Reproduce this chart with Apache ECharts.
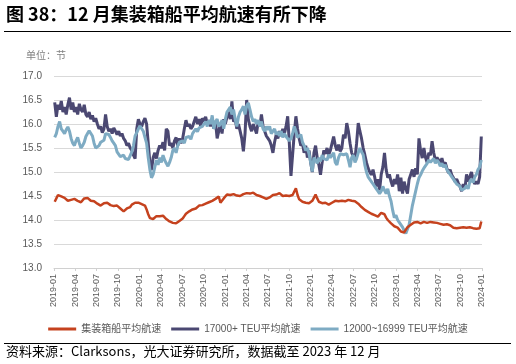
<!DOCTYPE html>
<html><head><meta charset="utf-8">
<script src="https://cdn.jsdelivr.net/npm/echarts@6/dist/echarts.min.js"></script>
<style>html,body{margin:0;padding:0;background:#fff}#c{width:516px;height:364px}</style>
</head><body><div id="c"></div>
<script>
const titleText = '图 38：12 月集装箱船平均航速有所下降';
const unitText = '单位：节';
const sourceText = '资料来源：Clarksons，光大证券研究所，数据截至 2023 年 12 月';
const seriesNames = ['集装箱船平均航速', '17000+ TEU平均航速', '12000~16999 TEU平均航速'];
const firstWeek = [2019, 1, 4];
const tickLabels = ['2019-01','2019-04','2019-07','2019-10','2020-01','2020-04','2020-07','2020-10',
  '2021-01','2021-04','2021-07','2021-10','2022-01','2022-04','2022-07','2022-10',
  '2023-01','2023-04','2023-07','2023-10','2024-01'];

// weekly values (knots), 2019-01 .. 2023-12
const avgSpeed = [
  14.38,14.45,14.52,14.50,14.49,14.48,14.46,14.42,14.40,14.38,14.42,14.45,14.44,
  14.42,14.40,14.38,14.37,14.40,14.45,14.47,14.46,14.43,14.40,14.38,14.39,14.36,
  14.34,14.31,14.30,14.32,14.35,14.37,14.36,14.33,14.31,14.30,14.29,14.28,14.30,
  14.27,14.24,14.20,14.18,14.22,14.24,14.25,14.27,14.32,14.35,14.36,14.34,14.36,
  14.35,14.33,14.34,14.30,14.22,14.12,14.04,14.00,14.02,14.05,14.08,14.10,14.08,
  14.07,14.09,14.05,14.02,14.00,13.97,13.95,13.94,13.96,13.93,13.95,13.98,14.00,
  14.03,14.08,14.13,14.16,14.18,14.20,14.22,14.25,14.24,14.27,14.30,14.29,14.31,
  14.33,14.34,14.36,14.37,14.38,14.40,14.42,14.44,14.47,14.49,14.36,14.34,14.45,
  14.49,14.53,14.55,14.52,14.50,14.54,14.53,14.51,14.49,14.50,14.52,14.54,14.55,
  14.56,14.54,14.55,14.53,14.57,14.55,14.52,14.53,14.50,14.48,14.47,14.46,14.44,
  14.45,14.47,14.49,14.52,14.55,14.53,14.54,14.56,14.52,14.50,14.53,14.51,14.49,
  14.50,14.48,14.52,14.55,14.66,14.52,14.43,14.40,14.38,14.37,14.36,14.38,14.35,
  14.38,14.40,14.44,14.53,14.45,14.38,14.36,14.35,14.34,14.36,14.33,14.32,14.34,
  14.36,14.38,14.40,14.41,14.39,14.42,14.40,14.41,14.39,14.40,14.42,14.41,14.40,
  14.38,14.39,14.37,14.34,14.30,14.27,14.24,14.21,14.18,14.17,14.15,14.13,14.12,
  14.10,14.08,14.07,14.10,14.15,14.16,14.12,14.05,14.00,13.96,13.93,13.90,13.87,
  13.86,13.84,13.80,13.76,13.72,13.74,13.80,13.85,13.88,13.90,13.93,13.95,13.94,
  13.96,13.95,13.93,13.94,13.96,13.95,13.94,13.92,13.96,13.93,13.95,13.97,13.94,
  13.96,13.92,13.95,13.90,13.87,13.91,13.93,13.89,13.86,13.84,13.85,13.83,13.86,
  13.84,13.82,13.85,13.83,13.84,13.82,13.85,13.84,13.83,13.86,13.82,13.84,13.83,13.97
];
const teu17000 = [
  16.45,16.15,16.40,16.30,16.48,16.25,16.35,16.20,16.40,16.55,16.30,16.45,16.25,
  16.35,16.20,16.42,16.30,16.25,16.40,16.20,16.15,16.25,16.10,16.18,16.05,16.12,
  16.00,15.90,15.95,15.82,15.90,16.20,15.95,15.85,15.90,15.80,15.92,15.85,15.78,
  15.85,15.75,15.80,15.70,15.65,15.55,15.60,15.50,15.45,15.35,15.28,15.90,16.10,
  16.00,15.95,16.05,16.12,16.00,15.60,15.20,15.04,15.30,15.40,15.28,15.45,15.55,
  15.50,15.62,15.45,15.90,15.85,15.55,15.60,15.50,15.65,15.72,15.55,15.70,15.60,
  15.70,15.90,16.08,15.95,16.00,15.90,15.95,16.05,16.15,16.00,16.10,15.95,16.12,
  16.05,16.15,16.00,16.08,15.95,16.10,15.90,16.05,15.70,15.85,16.00,15.80,16.10,
  16.00,16.15,16.25,16.10,16.47,16.05,16.10,15.90,16.00,15.85,15.70,15.43,15.80,
  16.50,16.10,15.95,15.85,16.00,15.90,15.80,16.05,15.95,16.20,15.95,15.85,15.75,
  15.70,15.65,15.55,15.40,15.62,15.78,15.70,15.85,15.75,15.90,15.80,15.95,16.16,
  15.60,14.92,15.36,15.80,16.16,15.90,15.70,15.55,15.60,15.40,15.55,15.30,15.45,
  15.20,15.00,15.40,15.55,15.30,15.15,14.94,15.20,15.45,15.38,15.50,15.36,15.45,
  15.45,15.74,15.55,15.45,15.57,15.43,15.50,15.78,15.70,16.02,15.85,15.60,15.40,
  15.36,15.26,15.60,16.02,15.85,15.70,15.50,15.36,15.20,15.08,15.00,14.94,15.05,
  14.90,14.70,14.85,14.62,14.95,15.10,15.40,15.05,14.88,14.95,14.80,14.70,14.85,
  14.75,14.95,14.60,14.88,14.55,14.80,14.65,14.55,14.85,14.95,15.05,14.90,15.08,
  14.95,15.70,15.45,15.29,15.50,15.30,15.20,15.40,15.35,15.64,15.40,15.25,15.30,
  15.25,15.18,15.29,15.15,15.20,15.08,14.98,15.05,14.94,14.88,14.80,14.85,14.77,
  14.70,14.60,14.75,14.65,14.95,14.80,14.90,15.00,14.85,14.75,14.80,14.75,14.90,15.74
];
const teu12000 = [
  15.72,15.80,15.95,16.05,15.90,15.85,15.80,15.88,15.94,15.85,15.70,15.60,15.55,
  15.65,15.72,15.60,15.50,15.55,15.62,15.74,15.80,15.86,15.84,15.75,15.60,15.50,
  15.46,15.55,15.62,15.58,15.66,15.80,15.84,15.78,15.72,15.65,15.60,15.55,15.42,
  15.38,15.32,15.30,15.35,15.28,15.30,15.26,15.34,15.42,15.55,15.75,15.82,15.90,
  15.96,16.00,15.85,15.72,15.60,15.30,15.05,14.88,14.95,15.10,15.25,15.15,15.30,
  15.20,15.35,15.25,15.18,15.12,15.20,15.30,15.45,15.50,15.40,15.55,15.62,15.58,
  15.65,15.60,15.72,15.70,15.74,15.68,15.80,15.85,15.90,15.84,15.92,15.88,15.95,
  16.00,16.05,15.95,16.08,16.00,16.18,15.90,16.05,16.10,15.95,16.00,16.08,15.90,
  16.10,16.25,16.30,16.35,16.20,16.30,16.10,15.95,16.15,16.25,16.30,16.37,16.20,
  16.38,16.44,16.30,16.15,16.05,16.10,16.00,16.08,15.95,16.05,15.90,15.85,15.95,
  15.88,15.95,15.80,15.85,15.90,15.78,15.84,15.75,15.85,15.72,15.80,15.74,15.70,
  15.65,15.70,15.80,15.95,15.85,15.72,15.68,15.78,15.62,15.55,15.45,15.50,15.38,
  15.20,15.01,15.30,15.25,15.18,15.30,15.22,15.35,15.28,15.32,15.25,15.36,15.30,
  15.28,15.40,15.20,15.15,15.30,15.38,15.42,15.36,15.40,15.38,15.25,15.10,15.30,
  15.35,15.20,15.28,15.40,15.50,15.42,15.36,15.15,15.00,14.90,14.88,14.80,14.75,
  14.70,14.65,14.60,14.55,14.60,14.70,14.62,14.55,14.65,14.50,14.39,14.20,14.05,
  14.10,14.00,13.95,13.92,13.85,13.78,13.72,13.76,13.90,14.10,14.30,14.45,14.60,
  14.75,14.88,14.94,15.02,15.08,15.10,15.18,15.25,15.20,15.22,15.28,15.18,15.25,
  15.20,15.12,15.18,15.10,15.15,15.05,15.08,14.95,14.90,14.85,14.80,14.75,14.78,
  14.70,14.62,14.58,14.66,14.72,14.65,14.80,14.85,14.78,14.90,14.95,15.05,15.10,15.25
];

const colors = ['#C5421E', '#4B4872', '#7EABC3'];

function weekTime(i) {
  return new Date(firstWeek[0], firstWeek[1] - 1, firstWeek[2] + 7 * i).getTime();
}
function pairs(vals) { return vals.map((v, i) => [weekTime(i), v]); }
const tickTimes = tickLabels.map(s => new Date(+s.slice(0, 4), +s.slice(5, 7) - 1, 1).getTime());
function fmt(v) {
  const d = new Date(v);
  const m = d.getMonth() + 1;
  return d.getFullYear() + '-' + (m < 10 ? '0' + m : m);
}

const chart = echarts.init(document.getElementById('c'), null, { renderer: 'canvas' });
const latin = 'Liberation Sans, Arial, Noto Sans CJK SC, sans-serif';
const cjk = 'Noto Sans CJK SC, sans-serif';
chart.setOption({
  animation: false,
  backgroundColor: '#fff',
  grid: { left: 54, right: 34, top: 76, bottom: 96 },
  graphic: [
    { type: 'text', left: 6, top: 5, style: { text: titleText, font: 'bold 18px ' + cjk, fill: '#000' } },
    { type: 'line', shape: { x1: 4, y1: 31.5, x2: 511, y2: 31.5 }, style: { stroke: '#000', lineWidth: 1 } },
    { type: 'text', left: 26, top: 50, style: { text: unitText, font: '10px ' + cjk, fill: '#7f7f7f' } },
    { type: 'line', shape: { x1: 4, y1: 343.5, x2: 511, y2: 343.5 }, style: { stroke: '#000', lineWidth: 1 } },
    { type: 'text', left: 6, top: 345, style: { text: sourceText, font: '13px ' + cjk, fill: '#000' } }
  ],
  legend: {
    data: seriesNames,
    top: 319, left: 'center',
    icon: 'rect', itemWidth: 28, itemHeight: 3, itemGap: 10,
    textStyle: { fontSize: 10, color: '#595959', fontFamily: latin }
  },
  xAxis: {
    type: 'value',
    min: tickTimes[0], max: tickTimes[tickTimes.length - 1],
    axisLine: { lineStyle: { color: '#d0d0d0' } },
    axisTick: { show: true, customValues: tickTimes, length: 3, lineStyle: { color: '#d0d0d0' } },
    axisLabel: { customValues: tickTimes, rotate: 90, formatter: fmt, fontSize: 9, color: '#595959', margin: 6, fontFamily: latin },
    splitLine: { show: false }
  },
  yAxis: {
    type: 'value', min: 13, max: 17, interval: 0.5,
    axisLine: { show: false }, axisTick: { show: false },
    axisLabel: { formatter: v => v.toFixed(1), fontSize: 10, color: '#595959', margin: 12, fontFamily: latin },
    splitLine: { lineStyle: { color: '#d9d9d9' } }
  },
  series: [
    { name: seriesNames[1], type: 'line', data: pairs(teu17000), symbol: 'none', color: colors[1], lineStyle: { width: 3, color: colors[1] }, z: 2 },
    { name: seriesNames[2], type: 'line', data: pairs(teu12000), symbol: 'none', color: colors[2], lineStyle: { width: 3, color: colors[2] }, z: 3 },
    { name: seriesNames[0], type: 'line', data: pairs(avgSpeed), symbol: 'none', color: colors[0], lineStyle: { width: 2.5, color: colors[0] }, z: 4 }
  ]
});
</script></body></html>
